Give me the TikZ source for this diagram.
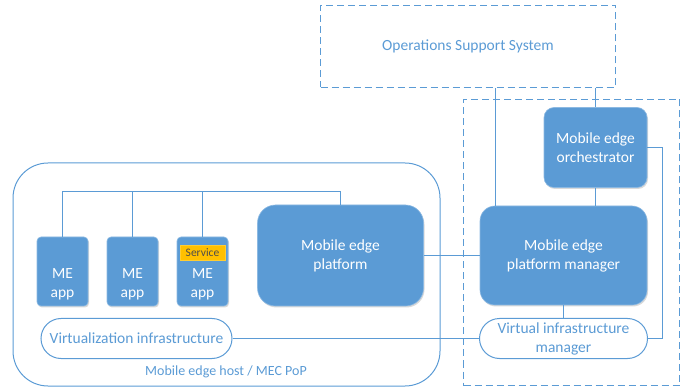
\documentclass[tikz,border=0pt]{standalone}
\usepackage{fontspec}
\setmainfont{Carlito}
\usetikzlibrary{shadows}
\definecolor{mblue}{HTML}{5B9BD5}
\definecolor{lblue}{HTML}{5B9BD5}
\definecolor{dblue}{HTML}{5B9BD5}
\definecolor{svc}{HTML}{FFC000}
\tikzset{
  x=1pt, y=-1pt,
  solidbox/.style={fill=mblue, draw=mblue!70!white, line width=0.6pt, text=white, inner sep=0pt, align=center,
    font=\fontsize{15.5}{19}\selectfont,
    drop shadow={shadow xshift=1pt, shadow yshift=-1.5pt, opacity=0.25, fill=black!60}},
  outlinebox/.style={draw=lblue, line width=1pt, fill=white, text=lblue, inner sep=0pt, align=center,
    font=\fontsize{15.5}{19}\selectfont},
  dashbox/.style={draw=dblue, line width=1pt, dash pattern=on 7pt off 4pt, inner sep=0pt, align=center, text=lblue,
    font=\fontsize{15.5}{19}\selectfont},
  conn/.style={draw=lblue, line width=1pt},
}
\begin{document}
\begin{tikzpicture}
\useasboundingbox (0,0) rectangle (688,387);
% frames
\node[dashbox, minimum width=295pt, minimum height=82pt] (oss) at (468,46.5) {Operations Support System};
\node[dashbox, minimum width=216pt, minimum height=286pt] (mecs) at (571.5,242.5) {};
\node[draw=lblue, line width=1pt, rounded corners=35pt, minimum width=427pt, minimum height=223pt, inner sep=0pt] (host) at (226.5,274.5) {};
\node[text=lblue, font=\fontsize{14}{16}\selectfont, inner sep=0pt] (hostlbl) at (226,372) {Mobile edge host / MEC PoP};
\coordinate (bus) at (0,191.5);
\coordinate (rside) at (662.5,0);
% boxes
\node[solidbox, rounded corners=4pt, minimum width=51pt, minimum height=69pt] (app1) at (62.5,271.5) {\\[16pt]ME\\app};
\node[solidbox, rounded corners=4pt, minimum width=51pt, minimum height=69pt] (app2) at (132.5,271.5) {\\[16pt]ME\\app};
\node[solidbox, rounded corners=4pt, minimum width=51pt, minimum height=69pt] (app3) at (202.5,271.5) {\\[16pt]ME\\app};
\node[fill=svc, draw=svc!80!white, line width=0.5pt, minimum width=45pt, minimum height=15pt, inner sep=0pt, text=black!70, font=\fontsize{11.5}{12}\selectfont] (svc) at (202.5,252.5) {Service};
\node[solidbox, rounded corners=18pt, minimum width=166pt, minimum height=101pt] (mep) at (340.5,255.5) {Mobile edge\\platform};
\node[solidbox, rounded corners=10pt, minimum width=103pt, minimum height=80pt] (meo) at (595.5,147.5) {Mobile edge\\orchestrator};
\node[solidbox, rounded corners=15pt, minimum width=167pt, minimum height=99pt] (mepm) at (563.5,255.5) {Mobile edge\\platform manager};
\node[outlinebox, rounded corners=20pt, minimum width=191pt, minimum height=40pt] (vi) at (136.5,338.5) {Virtualization infrastructure};
\node[outlinebox, rounded corners=20pt, minimum width=168pt, minimum height=40pt] (vim) at (563.5,338.5) {Virtual infrastructure\\manager};
% connectors
\draw[conn] (app1.north) -- (app1.north |- bus) -- (mep.north |- bus) -- (mep.north);
\draw[conn] (app2.north) -- (app2.north |- bus);
\draw[conn] (app3.north) -- (app3.north |- bus);
\draw[conn] (mep.east) -- (mepm.west);
\draw[conn] (vi.east) -- (vim.west);
\draw[conn] ([xshift=16pt]mepm.north west) -- ([xshift=16pt]mepm.north west |- oss.south);
\draw[conn] (meo.north) -- (meo.north |- oss.south);
\draw[conn] (meo.south) -- (meo.south |- mepm.north);
\draw[conn] (mepm.south) -- (mepm.south |- vim.north);
\draw[conn] (meo.east) -- (meo.east -| rside) |- (vim.east);
\end{tikzpicture}
\end{document}
